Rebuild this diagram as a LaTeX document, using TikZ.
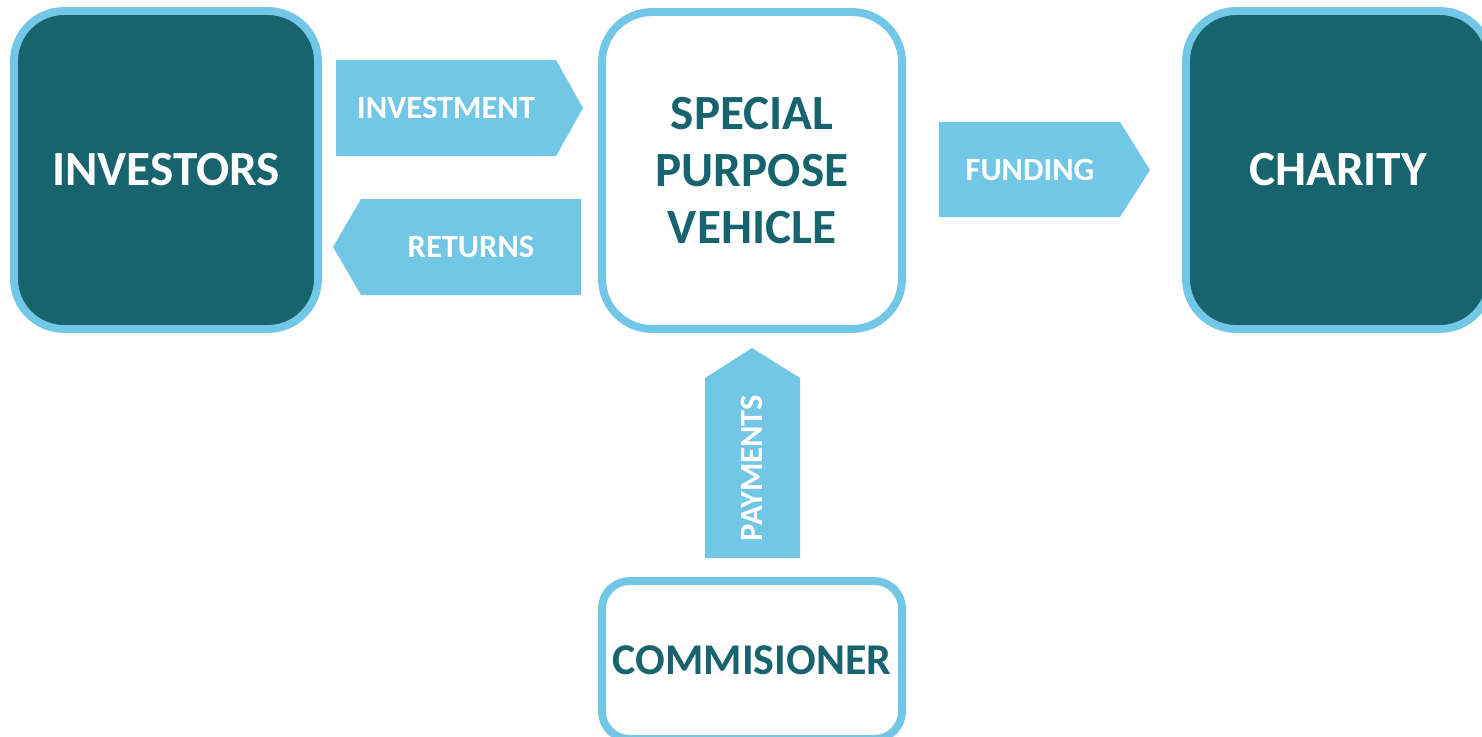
\documentclass[tikz,border=0pt]{standalone}
\usepackage{fontspec}
\setmainfont{Carlito}
\usepackage{tikz}

\definecolor{teal}{RGB}{23,100,111}
\definecolor{skyblue}{RGB}{114,198,230}

\begin{document}
\begin{tikzpicture}[x=0.02cm,y=-0.02cm,
		bigbox/.style={draw=skyblue,line width=4.5pt,rounded corners=1cm,inner sep=0pt,
			minimum width=6.08cm,minimum height=6.36cm,align=center,
			font=\fontsize{28}{32.3}\selectfont\bfseries},
		darkbox/.style={bigbox,fill=teal,text=white},
		lightbox/.style={bigbox,fill=white,text=teal},
		flow/.style={fill=skyblue},
		flowtext/.style={text=white,font=\fontsize{18.5}{22}\selectfont\bfseries}]
			\useasboundingbox (0,0) rectangle (1482,737);
			% boxes
			\node[darkbox] (investors) at (166,170) {INVESTORS};
			\node[lightbox,minimum width=6.0cm,minimum height=6.34cm] (spv) at (752,170.5) {SPECIAL\\PURPOSE\\VEHICLE};
			\node[darkbox] (charity) at (1338,170) {CHARITY};
			\node[lightbox,minimum width=6.0cm,minimum height=3.16cm,rounded corners=0.55cm,
				font=\fontsize{25}{30}\selectfont\bfseries] (commisioner) at (752,660) {COMMISIONER};
			% block arrows
			\fill[flow] (336,60) -- (556,60) -- (583,108) -- (556,156) -- (336,156) -- cycle;
			\node[flowtext] (investment) at (446,108) {INVESTMENT};
			\fill[flow] (581,199) -- (361,199) -- (333,247) -- (361,295) -- (581,295) -- cycle;
			\node[flowtext] (returns) at (471,247) {RETURNS};
			\fill[flow] (939,122) -- (1120,122) -- (1150,170) -- (1120,217) -- (939,217) -- cycle;
			\node[flowtext] (funding) at (1030,170) {FUNDING};
			\fill[flow] (705,558) -- (705,378) -- (752,348) -- (800,378) -- (800,558) -- cycle;
			\node[flowtext,rotate=90] (payments) at (752,468) {PAYMENTS};
		\end{tikzpicture}
\end{document}
